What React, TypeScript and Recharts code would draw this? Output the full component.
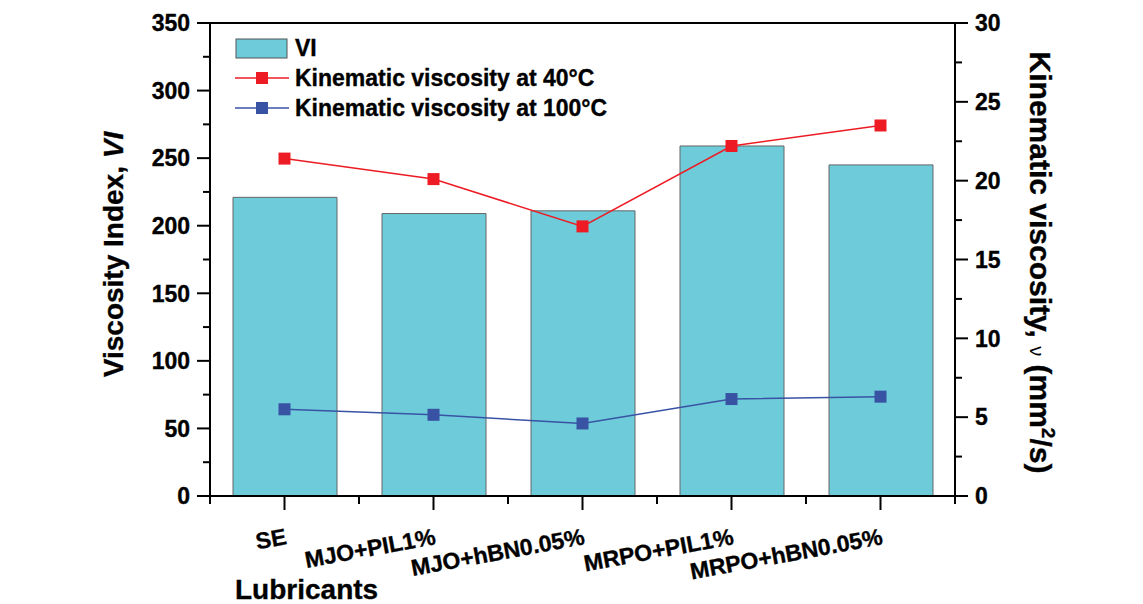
import React from 'react';
import { Bar, ComposedChart, Legend, Line, ReferenceLine, XAxis, YAxis } from 'recharts';

const categories = ['SE', 'MJO+PIL1%', 'MJO+hBN0.05%', 'MRPO+PIL1%', 'MRPO+hBN0.05%'];
const viValues = [221, 209, 211, 259, 245];
const kv40Values = [21.4, 20.1, 17.1, 22.2, 23.5];
const kv100Values = [5.5, 5.15, 4.6, 6.15, 6.3];
const leftTicks = [0, 25, 50, 75, 100, 125, 150, 175, 200, 225, 250, 275, 300, 325, 350];
const rightTicks = [0, 2.5, 5, 7.5, 10, 12.5, 15, 17.5, 20, 22.5, 25, 27.5, 30];

const data = categories.map((name, i) => ({
  name,
  vi: viValues[i],
  kv40: kv40Values[i],
  kv100: kv100Values[i],
}));

const FONT = '"Liberation Sans", Arial, Helvetica, sans-serif';
const BAR = '#6dcbda';
const RED = '#ed1c24';
const BLUE = '#3953a4';
const TICK_SIZE = 13;
const TICK_MARGIN = 7;
const BAND = 745 / categories.length;

const txt = {
  fontFamily: FONT,
  fontWeight: 'bold',
  fill: '#000',
  stroke: '#000',
  strokeWidth: 0.35,
} as const;

function LeftTick(props: any) {
  const { x, y, payload } = props;
  const ax = x + TICK_SIZE + TICK_MARGIN;
  const major = payload.value % 50 === 0;
  return (
    <g>
      <line x1={ax} x2={ax - (major ? 13 : 7)} y1={y} y2={y} stroke="#000" strokeWidth={2} />
      {major && (
        <text x={x} y={y} dy="0.36em" textAnchor="end" fontSize={23} {...txt}>
          {payload.value}
        </text>
      )}
    </g>
  );
}

function RightTick(props: any) {
  const { x, y, payload } = props;
  const ax = x - TICK_SIZE - TICK_MARGIN;
  const major = payload.value % 5 === 0;
  return (
    <g>
      <line x1={ax} x2={ax + (major ? 13 : 7)} y1={y} y2={y} stroke="#000" strokeWidth={2} />
      {major && (
        <text x={x} y={y} dy="0.36em" textAnchor="start" fontSize={23} {...txt}>
          {payload.value}
        </text>
      )}
    </g>
  );
}

function BottomTick(props: any) {
  const { x, y, payload, index } = props;
  const ay = y - TICK_SIZE - 4;
  const tx = x + 3;
  const ty = ay + 48;
  return (
    <g>
      <line x1={x} x2={x} y1={ay} y2={ay + 14} stroke="#000" strokeWidth={2} />
      <line x1={x - BAND / 2} x2={x - BAND / 2} y1={ay} y2={ay + 8} stroke="#000" strokeWidth={2} />
      {index === categories.length - 1 && (
        <line x1={x + BAND / 2} x2={x + BAND / 2} y1={ay} y2={ay + 8} stroke="#000" strokeWidth={2} />
      )}
      <text x={tx} y={ty} textAnchor="end" transform={`rotate(-10.5, ${tx}, ${ty})`} fontSize={23} {...txt}>
        {payload.value}
      </text>
    </g>
  );
}

function SquareDot(color: string) {
  return (props: any) => {
    const { cx, cy, index } = props;
    return <rect key={index} x={cx - 6} y={cy - 6} width={12} height={12} fill={color} />;
  };
}

function LeftLabel(props: any) {
  const vb = props.viewBox;
  const cy = vb.y + vb.height / 2 - 5;
  const x = 123;
  return (
    <text x={x} y={cy} textAnchor="middle" transform={`rotate(-90, ${x}, ${cy})`} fontSize={28} {...txt}>
      Viscosity Index, <tspan fontStyle="italic">VI</tspan>
    </text>
  );
}

function RightLabel(props: any) {
  const vb = props.viewBox;
  const cy = vb.y + vb.height / 2 + 3;
  const x = 1030;
  return (
    <text x={x} y={cy} textAnchor="middle" transform={`rotate(90, ${x}, ${cy})`} fontSize={30} {...txt}>
      Kinematic viscosity,{' '}
      <tspan fontWeight="normal" fontSize={20} strokeWidth={0}>
        ν
      </tspan>{' '}
      (mm
      <tspan dy={-12} fontSize={19}>
        2
      </tspan>
      <tspan dy={12}>/s)</tspan>
    </text>
  );
}

function LegendBox() {
  const items = [
    { label: 'Kinematic viscosity at 40°C', color: RED },
    { label: 'Kinematic viscosity at 100°C', color: BLUE },
  ];
  return (
    <svg width={440} height={90} style={{ display: 'block' }}>
      <rect x={1} y={3} width={51} height={19} fill={BAR} stroke="#555" strokeWidth={1} />
      <text x={60} y={20} fontSize={23} {...txt}>
        VI
      </text>
      {items.map((it, i) => {
        const cy = 42 + i * 30;
        return (
          <g key={it.label}>
            <line x1={0} x2={54} y1={cy} y2={cy} stroke={it.color} strokeWidth={1.5} />
            <rect x={21} y={cy - 6} width={12} height={12} fill={it.color} />
            <text x={60} y={cy + 8} fontSize={23} {...txt}>
              {it.label}
            </text>
          </g>
        );
      })}
    </svg>
  );
}

export default function App() {
  return (
    <div style={{ position: 'absolute', left: 0, top: 0, width: 1143, height: 604, background: '#fff' }}>
      <ComposedChart width={1143} height={604} data={data} margin={{ top: 23, right: 0, bottom: 0, left: 0 }}>
        <XAxis
          dataKey="name"
          height={108}
          interval={0}
          tickLine={false}
          tickSize={TICK_SIZE}
          tickMargin={4}
          tick={BottomTick}
          axisLine={{ stroke: '#000', strokeWidth: 2 }}
        />
        <YAxis
          yAxisId="left"
          width={210}
          domain={[0, 350]}
          ticks={leftTicks}
          interval={0}
          tickLine={false}
          tickSize={TICK_SIZE}
          tickMargin={TICK_MARGIN}
          tick={LeftTick}
          axisLine={{ stroke: '#000', strokeWidth: 2 }}
          label={<LeftLabel />}
        />
        <YAxis
          yAxisId="right"
          orientation="right"
          width={188}
          domain={[0, 30]}
          ticks={rightTicks}
          interval={0}
          tickLine={false}
          tickSize={TICK_SIZE}
          tickMargin={TICK_MARGIN}
          tick={RightTick}
          axisLine={{ stroke: '#000', strokeWidth: 2 }}
          label={<RightLabel />}
        />
        <ReferenceLine yAxisId="left" y={350} stroke="#000" strokeWidth={2} />
        <Bar yAxisId="left" dataKey="vi" barSize={104} fill={BAR} stroke="#666" strokeWidth={1} isAnimationActive={false} />
        <Line
          yAxisId="right"
          dataKey="kv40"
          stroke={RED}
          strokeWidth={1.5}
          dot={SquareDot(RED)}
          activeDot={false}
          isAnimationActive={false}
        />
        <Line
          yAxisId="right"
          dataKey="kv100"
          stroke={BLUE}
          strokeWidth={1.5}
          dot={SquareDot(BLUE)}
          activeDot={false}
          isAnimationActive={false}
        />
        <Legend
          layout="vertical"
          align="center"
          verticalAlign="middle"
          content={() => <LegendBox />}
          wrapperStyle={{ left: 235, top: 36, width: 440, height: 90 }}
        />
      </ComposedChart>
      <div
        style={{
          position: 'absolute',
          left: 235,
          top: 574,
          fontFamily: FONT,
          fontWeight: 'bold',
          fontSize: 28,
          lineHeight: '32px',
          color: '#000',
          WebkitTextStroke: '0.35px #000',
        }}
      >
        Lubricants
      </div>
    </div>
  );
}
